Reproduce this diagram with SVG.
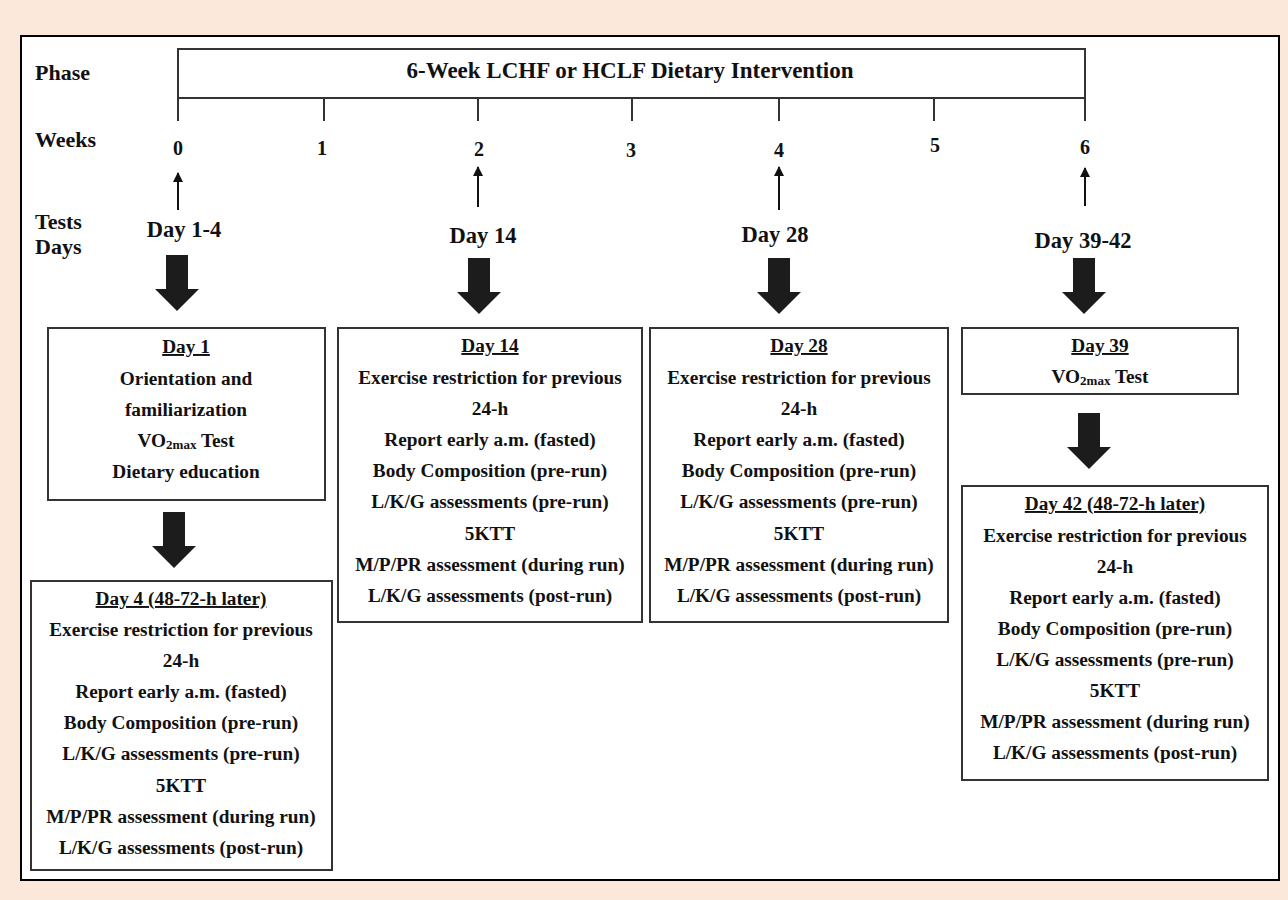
<svg xmlns="http://www.w3.org/2000/svg" width="1288" height="900" viewBox="0 0 1288 900">
<style>
text{font-family:"Liberation Serif","Times New Roman",serif;font-weight:bold;fill:#111}
.lbl{font-size:22px}
.ttl{font-size:23px;text-anchor:middle}
.num{font-size:20px;text-anchor:middle}
.day{font-size:22.5px;text-anchor:middle}
.bt{font-size:19.3px;text-anchor:middle}
.hd{text-decoration:underline}
.sub{font-size:13px}
.box{fill:#fff;stroke:#333;stroke-width:2}
.tl{stroke:#333;stroke-width:2;fill:none}
.thin{stroke:#111;stroke-width:2}
.big{fill:#1c1c1c}
</style>
<defs>
<marker id="ah" viewBox="0 0 10 10" refX="9" refY="5" markerWidth="5.5" markerHeight="5" orient="auto" markerUnits="strokeWidth">
<path d="M0,0 L10,5 L0,10 z" fill="#111"/>
</marker>
<path id="bigArrow" d="M-11,0 H11 V34 H22 L0,56 L-22,34 H-11 Z"/>
</defs>
<rect x="0" y="0" width="1288" height="900" fill="#fbe8da"/>
<rect x="21" y="36" width="1258" height="844" fill="#fff" stroke="#000" stroke-width="2"/>

<g id="timeline">
<rect x="178" y="49" width="907" height="49" class="tl"/>
<path class="tl" d="M178,98 V121 M324,98 V121 M478,98 V121 M632,98 V121 M779,98 V121 M934,98 V121 M1085,98 V121"/>
<text x="630" y="78" class="ttl">6-Week LCHF or HCLF Dietary Intervention</text>
</g>

<g id="labels">
<text x="35" y="80" class="lbl">Phase</text>
<text x="35" y="147" class="lbl">Weeks</text>
<text x="35" y="229" class="lbl">Tests</text>
<text x="35" y="254" class="lbl">Days</text>
<text x="178" y="155" class="num">0</text>
<text x="322" y="155" class="num">1</text>
<text x="479" y="156" class="num">2</text>
<text x="631" y="157" class="num">3</text>
<text x="779" y="157" class="num">4</text>
<text x="935" y="152" class="num">5</text>
<text x="1085" y="154" class="num">6</text>
<text x="184" y="237" class="day">Day 1-4</text>
<text x="483" y="243" class="day">Day 14</text>
<text x="775" y="242" class="day">Day 28</text>
<text x="1083" y="248" class="day">Day 39-42</text>
</g>

<g id="connectors">
<line x1="178" y1="210" x2="178" y2="173" class="thin" marker-end="url(#ah)"/>
<line x1="478" y1="207" x2="478" y2="167" class="thin" marker-end="url(#ah)"/>
<line x1="779" y1="210" x2="779" y2="167" class="thin" marker-end="url(#ah)"/>
<line x1="1085" y1="206" x2="1085" y2="168" class="thin" marker-end="url(#ah)"/>
<use href="#bigArrow" class="big" x="177" y="255"/>
<use href="#bigArrow" class="big" x="479" y="258"/>
<use href="#bigArrow" class="big" x="779" y="258"/>
<use href="#bigArrow" class="big" x="1084" y="258"/>
<use href="#bigArrow" class="big" x="174" y="512"/>
<use href="#bigArrow" class="big" x="1089" y="413"/>
</g>

<g id="day1">
<rect x="48" y="328" width="277" height="172" class="box"/>
<text x="186" y="353" class="bt hd">Day 1</text>
<text x="186" y="385" class="bt">Orientation and</text>
<text x="186" y="416" class="bt">familiarization</text>
<text x="186" y="447" class="bt">VO<tspan class="sub" dy="2">2max</tspan><tspan dy="-2"> Test</tspan></text>
<text x="186" y="478" class="bt">Dietary education</text>
</g>

<g id="day4">
<rect x="31" y="581" width="301" height="289" class="box"/>
<text x="181" y="605" class="bt hd">Day 4 (48-72-h later)</text>
<text x="181" y="636" class="bt">Exercise restriction for previous</text>
<text x="181" y="667" class="bt">24-h</text>
<text x="181" y="698" class="bt">Report early a.m. (fasted)</text>
<text x="181" y="729" class="bt">Body Composition (pre-run)</text>
<text x="181" y="760" class="bt">L/K/G assessments (pre-run)</text>
<text x="181" y="792" class="bt">5KTT</text>
<text x="181" y="823" class="bt">M/P/PR assessment (during run)</text>
<text x="181" y="854" class="bt">L/K/G assessments (post-run)</text>
</g>

<g id="day14">
<rect x="338" y="328" width="304" height="294" class="box"/>
<text x="490" y="352" class="bt hd">Day 14</text>
<text x="490" y="384" class="bt">Exercise restriction for previous</text>
<text x="490" y="415" class="bt">24-h</text>
<text x="490" y="446" class="bt">Report early a.m. (fasted)</text>
<text x="490" y="477" class="bt">Body Composition (pre-run)</text>
<text x="490" y="508" class="bt">L/K/G assessments (pre-run)</text>
<text x="490" y="540" class="bt">5KTT</text>
<text x="490" y="571" class="bt">M/P/PR assessment (during run)</text>
<text x="490" y="602" class="bt">L/K/G assessments (post-run)</text>
</g>

<g id="day28">
<rect x="650" y="328" width="298" height="294" class="box"/>
<text x="799" y="352" class="bt hd">Day 28</text>
<text x="799" y="384" class="bt">Exercise restriction for previous</text>
<text x="799" y="415" class="bt">24-h</text>
<text x="799" y="446" class="bt">Report early a.m. (fasted)</text>
<text x="799" y="477" class="bt">Body Composition (pre-run)</text>
<text x="799" y="508" class="bt">L/K/G assessments (pre-run)</text>
<text x="799" y="540" class="bt">5KTT</text>
<text x="799" y="571" class="bt">M/P/PR assessment (during run)</text>
<text x="799" y="602" class="bt">L/K/G assessments (post-run)</text>
</g>

<g id="day39">
<rect x="962" y="328" width="276" height="66" class="box"/>
<text x="1100" y="352" class="bt hd">Day 39</text>
<text x="1100" y="383" class="bt">VO<tspan class="sub" dy="2">2max</tspan><tspan dy="-2"> Test</tspan></text>
</g>

<g id="day42">
<rect x="962" y="486" width="306" height="294" class="box"/>
<text x="1115" y="510" class="bt hd">Day 42 (48-72-h later)</text>
<text x="1115" y="542" class="bt">Exercise restriction for previous</text>
<text x="1115" y="573" class="bt">24-h</text>
<text x="1115" y="604" class="bt">Report early a.m. (fasted)</text>
<text x="1115" y="635" class="bt">Body Composition (pre-run)</text>
<text x="1115" y="666" class="bt">L/K/G assessments (pre-run)</text>
<text x="1115" y="697" class="bt">5KTT</text>
<text x="1115" y="728" class="bt">M/P/PR assessment (during run)</text>
<text x="1115" y="759" class="bt">L/K/G assessments (post-run)</text>
</g>
</svg>
